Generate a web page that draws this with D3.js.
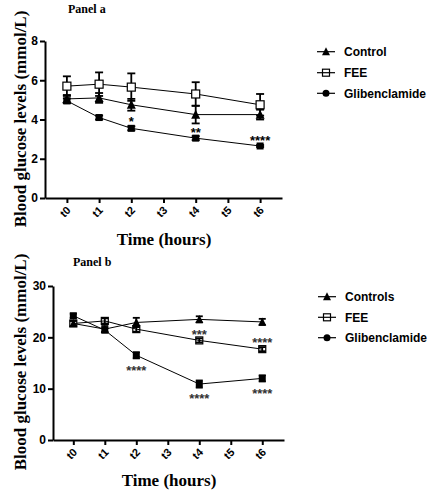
<!DOCTYPE html>
<html>
<head>
<meta charset="utf-8">
<script src="https://cdn.jsdelivr.net/npm/d3@7"></script>
<style>
  html, body { margin: 0; padding: 0; background: #fff; }
  svg { display: block; }
</style>
</head>
<body>
<svg id="chart" width="441" height="493"></svg>
<script>
// ---------- DATA ----------
const timeLabels = ["t0", "t1", "t2", "t3", "t4", "t5", "t6"];
const timePoints = [0, 1, 2, 4, 6];

// Panel a
const seriesNamesA = ["Control", "FEE", "Glibenclamide"];
const controlA = [5.05, 5.1, 4.75, 4.25, 4.25];
const controlAErr = [0.2, 0.25, 0.3, 0.45, 0.25];
const feeA = [5.7, 5.8, 5.65, 5.3, 4.75];
const feeAErr = [0.5, 0.6, 0.7, 0.6, 0.55];
const glibA = [4.95, 4.1, 3.55, 3.05, 2.65];
const glibAErr = [0.12, 0.1, 0.1, 0.1, 0.05];
const yTicksA = [0, 2, 4, 6, 8];
const starsA = [
  { t: 2, v: 4.03, label: "*" },
  { t: 4, v: 3.47, label: "**" },
  { t: 6, v: 3.08, label: "****" }
];

// Panel b
const seriesNamesB = ["Controls", "FEE", "Glibenclamide"];
const controlB = [22.7, 21.6, 22.9, 23.5, 23.0];
const controlBErr = [0.5, 0.6, 0.9, 0.6, 0.6];
const feeB = [22.7, 23.2, 21.6, 19.4, 17.7];
const feeBErr = [0.5, 0.5, 0.5, 0.4, 0.4];
const glibB = [24.2, 21.4, 16.5, 10.9, 12.0];
const glibBErr = [0.4, 0.4, 0.6, 0.7, 0.6];
const yTicksB = [0, 10, 20, 30];
const starsB = [
  { t: 2, v: 14.1, label: "****" },
  { t: 4, v: 21.1, label: "***" },
  { t: 4, v: 8.6, label: "****" },
  { t: 6, v: 19.4, label: "****" },
  { t: 6, v: 9.6, label: "****" }
];

const yTitle = "Blood glucose levels (mmol/L)";
const xTitle = "Time (hours)";

// ---------- DRAW ----------
const svg = d3.select("#chart");
const SERIF = "'Liberation Serif', 'Times New Roman', serif";
const SANS = "'Liberation Sans', Arial, sans-serif";

function drawPanel(cfg) {
  const g = svg.append("g");
  const x = d3.scaleLinear().domain(cfg.xDomain).range(cfg.xRange);
  const y = d3.scaleLinear().domain(cfg.yDomain).range(cfg.yRange);

  // Panel title
  g.append("text").attr("x", cfg.titlePos[0]).attr("y", cfg.titlePos[1])
    .attr("font-family", SERIF).attr("font-weight", "bold").attr("font-size", 12)
    .text(cfg.title);

  // Y axis
  const yAxis = g.append("g").attr("transform", `translate(${cfg.xRange[0]},0)`)
    .call(d3.axisLeft(y).tickValues(cfg.yTicks).tickSize(5).tickSizeOuter(0).tickPadding(2));
  // X axis
  const xAxis = g.append("g").attr("transform", `translate(0,${cfg.yRange[0]})`)
    .call(d3.axisBottom(x).tickValues(d3.range(timeLabels.length))
      .tickFormat(i => timeLabels[i]).tickSize(5).tickSizeOuter(0));
  [yAxis, xAxis].forEach(ax => {
    ax.select(".domain").attr("stroke", "#000").attr("stroke-width", 2);
    ax.selectAll(".tick line").attr("stroke", "#000").attr("stroke-width", 2);
    ax.selectAll("text").attr("font-family", SANS).attr("font-weight", "bold").attr("fill", "#000");
  });
  yAxis.selectAll("text").attr("font-size", 12);
  xAxis.selectAll("text").attr("font-size", 11)
    .attr("text-anchor", "end").attr("dy", null).attr("y", 0)
    .attr("transform", "translate(4,13) rotate(-45)");

  // Axis titles
  g.append("text")
    .attr("transform", `translate(${cfg.yTitlePos[0]},${cfg.yTitlePos[1]}) rotate(-90)`)
    .attr("text-anchor", "middle").attr("font-family", SERIF).attr("font-weight", "bold")
    .attr("font-size", 17).text(yTitle);
  g.append("text").attr("x", cfg.xTitlePos[0]).attr("y", cfg.xTitlePos[1])
    .attr("text-anchor", "middle").attr("font-family", SERIF).attr("font-weight", "bold")
    .attr("font-size", 17).text(xTitle);

  const line = d3.line().x(d => x(d.t)).y(d => y(d.v));

  cfg.series.forEach(s => {
    const pts = timePoints.map((t, i) => ({ t, v: s.values[i], e: s.errors[i] }));
    s.pts = pts;
    g.append("path").datum(pts).attr("d", line)
      .attr("fill", "none").attr("stroke", "#000").attr("stroke-width", 1);
  });

  // Error bars
  cfg.series.forEach(s => {
    const eb = g.append("g");
    s.pts.forEach(p => {
      const x0 = x(p.t), yt = y(p.v + p.e), yb = y(p.v - p.e);
      const cw = cfg.capW;
      eb.append("line").attr("x1", x0).attr("x2", x0).attr("y1", yt).attr("y2", yb)
        .attr("stroke", "#000").attr("stroke-width", 1.8);
      eb.append("line").attr("x1", x0 - cw / 2).attr("x2", x0 + cw / 2).attr("y1", yt).attr("y2", yt)
        .attr("stroke", "#000").attr("stroke-width", 1.8);
      eb.append("line").attr("x1", x0 - cw / 2).attr("x2", x0 + cw / 2).attr("y1", yb).attr("y2", yb)
        .attr("stroke", "#000").attr("stroke-width", 1.8);
    });
  });

  // Markers
  function marker(sel, kind, cx, cy, size, legend) {
    if (kind === "triangle") {
      const h = size, w = size;
      sel.append("path")
        .attr("d", `M${cx},${cy - h * 0.55} L${cx + w / 2},${cy + h * 0.45} L${cx - w / 2},${cy + h * 0.45} Z`)
        .attr("fill", "#000");
    } else if (kind === "open") {
      sel.append("rect").attr("x", cx - size / 2).attr("y", cy - size / 2)
        .attr("width", size).attr("height", size)
        .attr("fill", legend ? "none" : cfg.openFill).attr("stroke", "#000").attr("stroke-width", 1.2);
    } else if (kind === "filled") {
      sel.append("rect").attr("x", cx - size / 2).attr("y", cy - size / 2)
        .attr("width", size).attr("height", size).attr("fill", "#000");
    } else if (kind === "circle") {
      sel.append("circle").attr("cx", cx).attr("cy", cy).attr("r", size / 2).attr("fill", "#000");
    }
  }
  cfg.series.forEach(s => {
    const mg = g.append("g");
    s.pts.forEach(p => marker(mg, s.kind, x(p.t), y(p.v), s.size, false));
  });

  // Stars
  cfg.stars.forEach(st => {
    g.append("text").attr("x", x(st.t)).attr("y", y(st.v) + 7)
      .attr("text-anchor", "middle").attr("font-family", SANS).attr("font-weight", "bold")
      .attr("font-size", 13).attr("fill", cfg.starColor).text(st.label);
  });

  // Legend
  cfg.series.forEach((s, i) => {
    const ly = cfg.legendY[i];
    const lg = g.append("g");
    lg.append("line").attr("x1", cfg.legendX).attr("x2", cfg.legendX + 18)
      .attr("y1", ly).attr("y2", ly).attr("stroke", "#000").attr("stroke-width", 1.2);
    marker(lg, s.legendKind, cfg.legendX + 9, ly, s.legendSize, true);
    lg.append("text").attr("x", cfg.legendX + 27).attr("y", ly + 4.5)
      .attr("font-family", SANS).attr("font-weight", "bold").attr("font-size", 12)
      .text(s.name);
  });
}

drawPanel({
  title: "Panel a", titlePos: [68, 13],
  xDomain: [-0.68, 6.68], xRange: [45, 282],
  yDomain: [0, 8], yRange: [198, 41], yTicks: yTicksA,
  yTitlePos: [26, 119], xTitlePos: [164, 245],
  capW: 8, openFill: "#fff", starColor: "#000",
  series: [
    { name: seriesNamesA[0], values: controlA, errors: controlAErr, kind: "triangle", size: 9, legendKind: "triangle", legendSize: 8 },
    { name: seriesNamesA[1], values: feeA, errors: feeAErr, kind: "open", size: 8, legendKind: "open", legendSize: 7 },
    { name: seriesNamesA[2], values: glibA, errors: glibAErr, kind: "filled", size: 7, legendKind: "circle", legendSize: 7 }
  ],
  stars: starsA,
  legendX: 317, legendY: [51.7, 72.7, 93.3]
});

drawPanel({
  title: "Panel b", titlePos: [73, 266],
  xDomain: [-0.645, 6.69], xRange: [53, 284],
  yDomain: [0, 30], yRange: [440, 286], yTicks: yTicksB,
  yTitlePos: [26, 362], xTitlePos: [169, 486],
  capW: 7, openFill: "none", starColor: "#333",
  series: [
    { name: seriesNamesB[0], values: controlB, errors: controlBErr, kind: "triangle", size: 8, legendKind: "triangle", legendSize: 8 },
    { name: seriesNamesB[1], values: feeB, errors: feeBErr, kind: "open", size: 7, legendKind: "open", legendSize: 7 },
    { name: seriesNamesB[2], values: glibB, errors: glibBErr, kind: "filled", size: 7, legendKind: "circle", legendSize: 7 }
  ],
  stars: starsB,
  legendX: 318, legendY: [296.7, 317.3, 337.7]
});
</script>
</body>
</html>
